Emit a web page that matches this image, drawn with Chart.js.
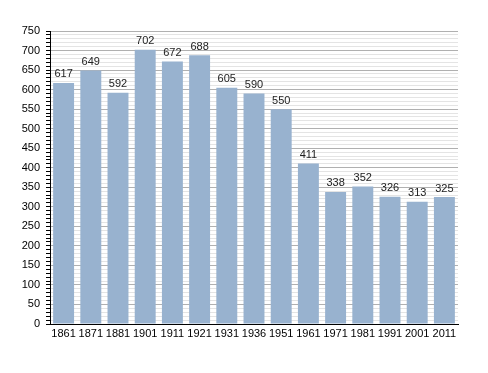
<!DOCTYPE html>
<html>
<head>
<meta charset="utf-8">
<script src="https://cdn.jsdelivr.net/npm/chart.js@4"></script>
<style>
  html, body { margin: 0; padding: 0; background: #fff; }
  canvas { display: block; }
</style>
</head>
<body>
<canvas id="chart" width="488" height="373"></canvas>
<script>
const years = ["1861", "1871", "1881", "1901", "1911", "1921", "1931", "1936", "1951", "1961", "1971", "1981", "1991", "2001", "2011"];
const population = [617, 649, 592, 702, 672, 688, 605, 590, 550, 411, 338, 352, 326, 313, 325];

const barColor = "rgb(152, 178, 207)";
const font = "Liberation Sans, Arial, sans-serif";

// value labels above bars
const valueLabels = {
    id: "valueLabels",
    afterDatasetsDraw(chart) {
        const ctx = chart.ctx;
        const meta = chart.getDatasetMeta(0);
        ctx.save();
        ctx.font = "11px " + font;
        ctx.fillStyle = "#222";
        ctx.textAlign = "center";
        ctx.textBaseline = "bottom";
        meta.data.forEach((bar, i) => {
            ctx.fillText(population[i], bar.x, bar.y - 3);
        });
        ctx.restore();
    },
};

new Chart(document.getElementById("chart"), {
    type: "bar",
    data: {
        labels: years,
        datasets: [{
            data: population,
            backgroundColor: barColor,
            borderWidth: 0,
            categoryPercentage: 1,
            barPercentage: 0.77,
        }],
    },
    options: {
        responsive: false,
        animation: false,
        layout: {padding: {top: 31, right: 30, left: 0, bottom: 0}},
        plugins: {
            legend: {display: false},
            tooltip: {enabled: false},
        },
        scales: {
            x: {
                grid: {display: false, drawTicks: false},
                border: {color: "#000", width: 1},
                ticks: {color: "#000", font: {family: font, size: 11}, maxRotation: 0, autoSkip: false, padding: 3},
                afterFit: (scale) => { scale.height = 49; },
            },
            y: {
                min: 0,
                max: 750,
                border: {color: "#000", width: 1},
                ticks: {
                    stepSize: 10,
                    autoSkip: false,
                    color: "#000",
                    font: {family: font, size: 11},
                    padding: 6,
                    callback: (v) => (v % 50 === 0 ? v : ""),
                },
                grid: {
                    color: (c) => (c.tick && c.tick.value % 50 === 0 ? "#b0b0b0" : "#e4e4e4"),
                    tickColor: "#000",
                    tickLength: 4,
                    lineWidth: 1,
                },
                afterFit: (scale) => { scale.width = 50; },
            },
        },
    },
    plugins: [valueLabels],
});
</script>
</body>
</html>
